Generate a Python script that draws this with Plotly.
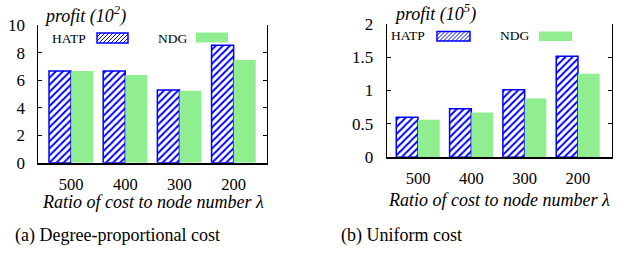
import plotly.graph_objects as go

W, H = 623, 259

categories = ["500", "400", "300", "200"]
hatp_degree = [6.67, 6.67, 5.30, 8.55]
ndg_degree = [6.67, 6.39, 5.23, 7.47]
hatp_uniform = [0.60, 0.725, 1.01, 1.51]
ndg_uniform = [0.56, 0.67, 0.88, 1.25]

y1_ticks = [0, 2, 4, 6, 8, 10]
y2_ticks = [0, 0.5, 1, 1.5, 2]
y2_ticktext = ["0", "0.5", "1", "1.5", "2"]

FONT = "Liberation Serif"
BLUE = "#0000ff"
GREEN = "#90ee90"


def px(x):
    return x / W


def py(y):
    return 1 - y / H


hatp_marker = dict(
    color="white",
    line=dict(color=BLUE, width=1.5),
    pattern=dict(shape="/", fgcolor=BLUE, bgcolor="white", size=5, solidity=0.4),
)
ndg_marker = dict(color=GREEN, line=dict(width=0))

xs = list(range(len(categories)))

fig = go.Figure()
fig.add_trace(go.Bar(x=xs, y=hatp_degree, name="HATP", marker=hatp_marker,
                     xaxis="x", yaxis="y", showlegend=False))
fig.add_trace(go.Bar(x=xs, y=ndg_degree, name="NDG", marker=ndg_marker,
                     xaxis="x", yaxis="y", showlegend=False))
fig.add_trace(go.Bar(x=xs, y=hatp_uniform, name="HATP", marker=hatp_marker,
                     xaxis="x2", yaxis="y2", showlegend=False))
fig.add_trace(go.Bar(x=xs, y=ndg_uniform, name="NDG", marker=ndg_marker,
                     xaxis="x2", yaxis="y2", showlegend=False))

xtickfont = dict(family=FONT, size=16.5, color="black")
ytickfont = dict(family=FONT, size=17, color="black")

left_dom_x = [px(38.3), px(266.7)]
left_dom_y = [py(162.7), py(25.3)]
right_dom_x = [px(386.7), px(611.7)]
right_dom_y = [py(157.3), py(23.6)]
xr1 = [-0.605, 3.61]
xr2 = [-0.587, 3.633]

common_x = dict(showline=True, linecolor="black", linewidth=2, mirror=False,
                ticks="", tickmode="array", tickvals=xs, ticktext=categories,
                tickfont=xtickfont, showgrid=False, zeroline=False,
                ticklabelstandoff=5, automargin=False)
common_xtop = dict(showline=True, linecolor="black", linewidth=1, side="top",
                   ticks="inside", ticklen=4, tickcolor="black", tickwidth=1,
                   tickmode="array", tickvals=xs, showticklabels=False,
                   showgrid=False, zeroline=False, automargin=False)
common_y = dict(showline=True, linecolor="black", linewidth=1, mirror="allticks",
                ticks="inside", ticklen=4, tickcolor="black", tickwidth=1,
                tickfont=ytickfont, showgrid=False, zeroline=False,
                ticklabelstandoff=9, automargin=False)

fig.update_layout(
    template="none",
    width=W, height=H,
    margin=dict(l=0, r=0, t=0, b=0, autoexpand=False),
    paper_bgcolor="white", plot_bgcolor="white",
    showlegend=False,
    barmode="group", bargap=0.185, bargroupgap=0,
    font=dict(family=FONT, color="black"),
    xaxis=dict(domain=left_dom_x, range=xr1, anchor="y", **common_x),
    yaxis=dict(domain=left_dom_y, range=[0, 10], anchor="x",
               tickvals=y1_ticks, **common_y),
    xaxis2=dict(domain=right_dom_x, range=xr2, anchor="y2", **common_x),
    yaxis2=dict(domain=right_dom_y, range=[0, 2], anchor="x2",
                tickvals=y2_ticks, ticktext=y2_ticktext, **common_y),
    xaxis3=dict(overlaying="x", range=xr1, anchor="y", **common_xtop),
    xaxis4=dict(overlaying="x2", range=xr2, anchor="y2", **common_xtop),
)

annotations = []
shapes = []


def text(x, y, s, size, italic=False, xanchor="left"):
    annotations.append(dict(
        x=px(x), y=py(y), xref="paper", yref="paper", text=s, showarrow=False,
        xanchor=xanchor, yanchor="middle", align="left",
        font=dict(family=FONT, size=size, color="black",
                  style="italic" if italic else "normal"),
    ))


def hatch_swatch(x0, y0, x1, y1, step=4.0):
    h = y1 - y0
    parts = []
    c = x0 - h
    while c < x1:
        t0 = max(0.0, x0 - c)
        t1 = min(h, x1 - c)
        if t1 > t0:
            parts.append("M%.5f,%.5f L%.5f,%.5f" % (
                px(c + t0), py(y1 - t0), px(c + t1), py(y1 - t1)))
        c += step
    shapes.append(dict(type="rect", xref="paper", yref="paper",
                       x0=px(x0), x1=px(x1), y0=py(y1), y1=py(y0),
                       fillcolor="white", line=dict(width=0), layer="above"))
    shapes.append(dict(type="path", xref="paper", yref="paper",
                       path=" ".join(parts), line=dict(color=BLUE, width=1),
                       layer="above"))
    shapes.append(dict(type="rect", xref="paper", yref="paper",
                       x0=px(x0), x1=px(x1), y0=py(y1), y1=py(y0),
                       fillcolor="rgba(0,0,0,0)", line=dict(color=BLUE, width=1.5),
                       layer="above"))


def green_swatch(x0, y0, x1, y1):
    shapes.append(dict(type="rect", xref="paper", yref="paper",
                       x0=px(x0), x1=px(x1), y0=py(y1), y1=py(y0),
                       fillcolor=GREEN, line=dict(width=0), layer="above"))


# legends
text(50, 38, "HATP", 13.5)
hatch_swatch(97, 33, 128, 43)
text(156, 38, "NDG", 13.5)
green_swatch(196, 32.5, 228, 42.5)

text(389, 36, "HATP", 13.5)
hatch_swatch(437, 31.5, 470, 41)
text(498, 36, "NDG", 13.5)
green_swatch(539, 31.5, 572, 41)

# y titles
text(42, 15, "profit (10<sup>2</sup>)", 18, italic=True)
text(392, 13, "profit (10<sup>5</sup>)", 18, italic=True)

# x titles
text(152.5, 202, "Ratio of cost to node number λ", 18, italic=True, xanchor="center")
text(499.2, 200, "Ratio of cost to node number λ", 18, italic=True, xanchor="center")

# captions
text(13, 235, "(a) Degree-proportional cost", 18)
text(339, 235, "(b) Uniform cost", 18)

fig.update_layout(annotations=annotations, shapes=shapes)

fig.write_html("out.html",
               config={"displayModeBar": False, "staticPlot": True},
               post_script="document.body.style.margin='0px';document.body.style.padding='0px';")
